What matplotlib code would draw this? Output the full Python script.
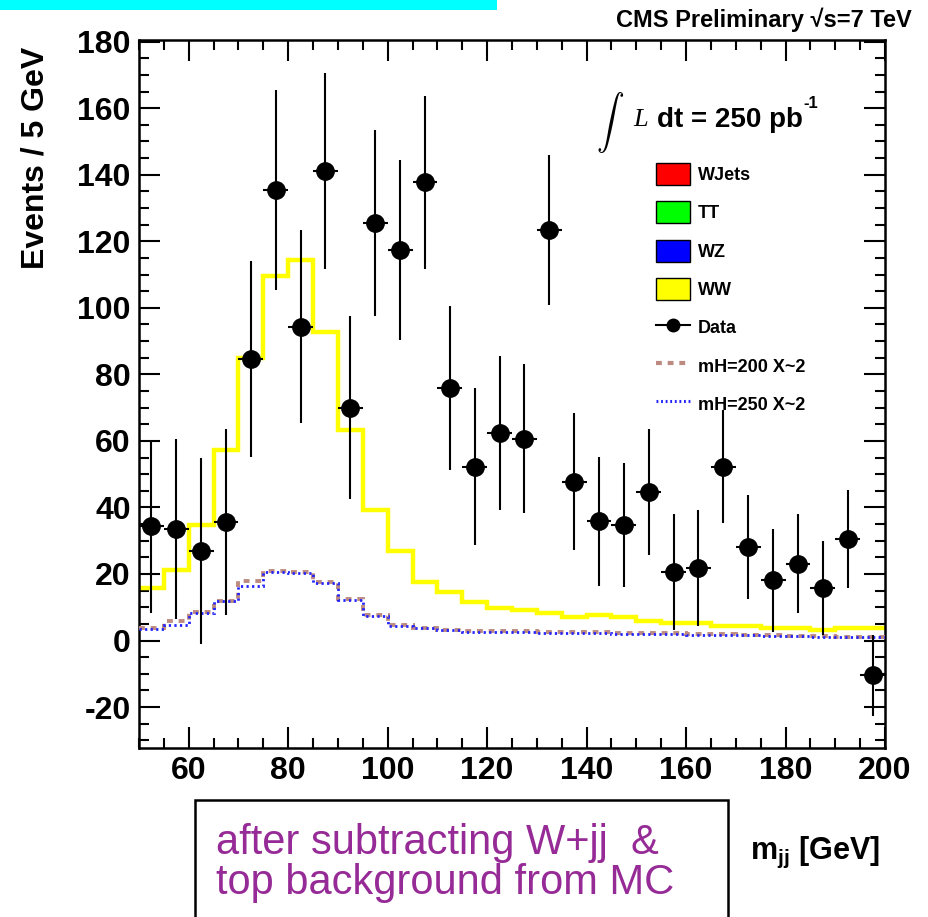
import numpy as np
import matplotlib.pyplot as plt
from matplotlib.patches import Patch, Rectangle
from matplotlib.lines import Line2D
from matplotlib.ticker import MultipleLocator

plt.rcParams['font.family'] = ['Liberation Sans', 'DejaVu Sans']
plt.rcParams['axes.unicode_minus'] = False
plt.rcParams['mathtext.fontset'] = 'custom'
plt.rcParams['mathtext.rm'] = 'Liberation Sans:bold'
plt.rcParams['mathtext.bf'] = 'Liberation Sans:bold'

# m_jj bins, 5 GeV wide
edges = np.arange(50, 205, 5)
centers = edges[:-1] + 2.5

# data after W+jj and top subtraction
data_y = [34.4, 33.5, 27.0, 35.6, 84.6, 135.5, 94.3, 141.2, 70.0, 125.5,
          117.3, 137.8, 76.0, 52.3, 62.4, 60.7, 123.3, 47.8, 35.8, 34.8,
          44.6, 20.6, 21.8, 52.3, 28.1, 18.1, 23.1, 15.8, 30.6, -10.5]
data_err = [26, 27, 28, 28, 29.5, 30, 29, 29.5, 27.5, 28,
            27, 26, 24.7, 23.6, 23.2, 22.3, 22.5, 20.5, 19.5, 18.7,
            19, 17.3, 17.5, 17, 15.7, 15.5, 14.8, 14.2, 14.7, 12.2]

# WW expectation
ww = [15.9, 21.3, 34.8, 57.3, 85.0, 109.6, 114.3, 92.8, 63.2, 39.3,
      27.0, 17.7, 14.7, 11.7, 9.9, 9.3, 8.3, 7.0, 7.6, 7.0,
      5.8, 5.3, 5.3, 4.5, 4.5, 3.8, 3.8, 3.1, 3.7, 3.7]

# Higgs signals (x2)
mh200 = [3.9, 6.0, 8.5, 12.0, 18.0, 20.8, 20.7, 17.6, 12.4, 7.6,
         4.6, 3.9, 3.3, 2.9, 2.8, 2.8, 2.7, 2.6, 2.5, 2.4,
         2.3, 2.2, 2.0, 1.9, 1.8, 1.6, 1.5, 1.3, 1.2, 1.1]
mh250 = [3.6, 4.8, 8.3, 11.8, 16.3, 20.6, 20.4, 17.4, 12.1, 7.4,
         4.4, 3.7, 3.1, 2.7, 2.6, 2.5, 2.4, 2.3, 2.2, 2.1,
         2.0, 1.9, 1.8, 1.7, 1.6, 1.4, 1.3, 1.2, 1.1, 1.0]

W, H = 929, 917
fig = plt.figure(figsize=(W / 100, H / 100), dpi=100)
ax = fig.add_axes([139 / W, 1 - 748 / H, 746 / W, 708 / H])

ax.stairs(ww, edges, baseline=None, color='#ffff00', lw=3.2, zorder=2)
ax.stairs(mh200, edges, baseline=None, color='#bc8a80', lw=2.8,
          linestyle=(0, (1.5, 1.5)), zorder=3)
ax.stairs(mh250, edges, baseline=None, color='#2222ff', lw=2.0,
          linestyle=(0, (0.8, 1.2)), zorder=3)
ax.errorbar(centers, data_y, yerr=data_err, xerr=2.5, fmt='o', color='black',
            ms=12.5, elinewidth=1.5, capsize=0, zorder=5)

ax.set_xlim(50, 200)
ax.set_ylim(-32.3, 180.5)
ax.xaxis.set_major_locator(MultipleLocator(20))
ax.xaxis.set_minor_locator(MultipleLocator(5))
ax.yaxis.set_major_locator(MultipleLocator(20))
ax.yaxis.set_minor_locator(MultipleLocator(5))
ax.tick_params(which='both', direction='in', top=True, right=True, width=1.5)
ax.tick_params(which='major', length=15, labelsize=23, pad=6)
ax.tick_params(which='minor', length=7.5)
for lab in ax.get_xticklabels() + ax.get_yticklabels():
    lab.set_fontweight('bold')
for s in ax.spines.values():
    s.set_linewidth(1.8)

ax.set_ylabel('Events / 5 GeV', fontsize=23, fontweight='bold', va='center')
ax.yaxis.set_label_coords(-0.139, 0.833)
fig.text(750 / W, 1 - 852 / H, r'm$_{\mathbf{jj}}$ [GeV]', fontsize=22,
         fontweight='bold', ha='left', va='center')

# legend
handles = [Patch(facecolor='#ff0000', edgecolor='black', lw=1),
           Patch(facecolor='#00ff00', edgecolor='black', lw=1),
           Patch(facecolor='#0000ff', edgecolor='black', lw=1),
           Patch(facecolor='#ffff00', edgecolor='black', lw=1),
           Line2D([], [], color='black', marker='o', ms=9, lw=1.5),
           Line2D([], [], color='#bc8a80', lw=3, linestyle=(0, (1.4, 1.4))),
           Line2D([], [], color='#2222ff', lw=2.2, linestyle=(0, (0.6, 0.9)))]
labels = ['WJets', 'TT', 'WZ', 'WW', 'Data', 'mH=200 X~2', 'mH=250 X~2']
leg = ax.legend(handles, labels, loc='upper left', bbox_to_anchor=(0.693, 0.826),
                frameon=False, borderpad=0, borderaxespad=0, handlelength=1.9,
                handleheight=1.5, labelspacing=0.9, handletextpad=0.4,
                prop={'weight': 'bold', 'size': 13})

# luminosity label
fig.text(596 / W, 1 - 123 / H, r'$\int$', fontsize=20, math_fontfamily='cm',
         ha='left', va='center')
fig.text(633 / W, 1 - 120 / H, 'L', fontsize=19, family='Liberation Serif',
         style='italic', ha='left', va='center')
fig.text(657 / W, 1 - 120 / H, 'dt = 250 pb', fontsize=20,
         fontweight='bold', ha='left', va='center')
fig.text(803 / W, 1 - 104 / H, '-1', fontsize=12,
         fontweight='bold', ha='left', va='center')

fig.text(912 / W, 1 - 20 / H, 'CMS Preliminary \u221as=7 TeV', fontsize=17,
         fontweight='bold', ha='right', va='center')

# cyan strip at the top
fig.add_artist(Rectangle((0, 1 - 10 / H), 497 / W, 10 / H, transform=fig.transFigure,
                         facecolor='#00ffff', edgecolor='none'))

# note box
fig.add_artist(Rectangle((195 / W, -0.05), 533 / W, 0.05 + 1 - 800 / H,
                         transform=fig.transFigure, facecolor='white',
                         edgecolor='black', lw=1.8, clip_on=False))
fig.text(216 / W, 1 - 863 / H, 'after subtracting W+jj  &\ntop background from MC',
         fontsize=30, color='#962a96', ha='left', va='center', linespacing=1.0)

fig.savefig('out.png', dpi=100)
plt.close(fig)
